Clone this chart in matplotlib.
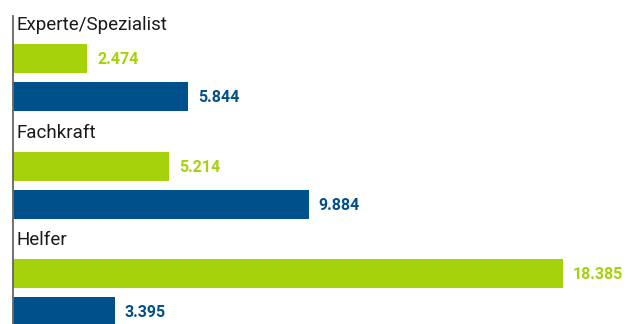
import numpy as np
import matplotlib
matplotlib.use("Agg")
import matplotlib.pyplot as plt

categories = ["Experte/Spezialist", "Fachkraft", "Helfer"]
green_vals = [2474, 5214, 18385]
blue_vals = [5844, 9884, 3395]

GREEN = "#a5d20a"
BLUE = "#00508c"

fig = plt.figure(figsize=(6.35, 3.24), dpi=100)
ax = fig.add_axes([0, 0, 1, 1])

# layout in pixel-like units (y from top)
px_per_unit = 550 / 18385
x0 = 13
ax.set_xlim(-x0 / px_per_unit, (635 - x0) / px_per_unit)
ax.set_ylim(324, 0)

group = 107.5
base = np.arange(len(categories)) * group
y_green = base + 58.5
y_blue = base + 96.5
y_label = base + 25

ax.barh(y_green, green_vals, height=29, color=GREEN)
ax.barh(y_blue, blue_vals, height=29, color=BLUE)

gap = 10 / px_per_unit
for yg, yb, g, b, cat, yl in zip(y_green, y_blue, green_vals, blue_vals, categories, y_label):
    ax.text(g + gap, yg + 1, f"{g:,}".replace(",", "."), color=GREEN, fontsize=11.5,
            fontweight="bold", va="center", ha="left", family="Roboto")
    ax.text(b + gap, yb + 1, f"{b:,}".replace(",", "."), color=BLUE, fontsize=11.5,
            fontweight="bold", va="center", ha="left", family="Roboto")
    ax.text(4 / px_per_unit, yl, cat, color="#1a1a1a", fontsize=13.5,
            va="center", ha="left", family="Roboto")

ax.plot([0, 0], [16, 324], color="#666666", lw=1.3)
ax.axis("off")

fig.savefig("out.png", dpi=100)
